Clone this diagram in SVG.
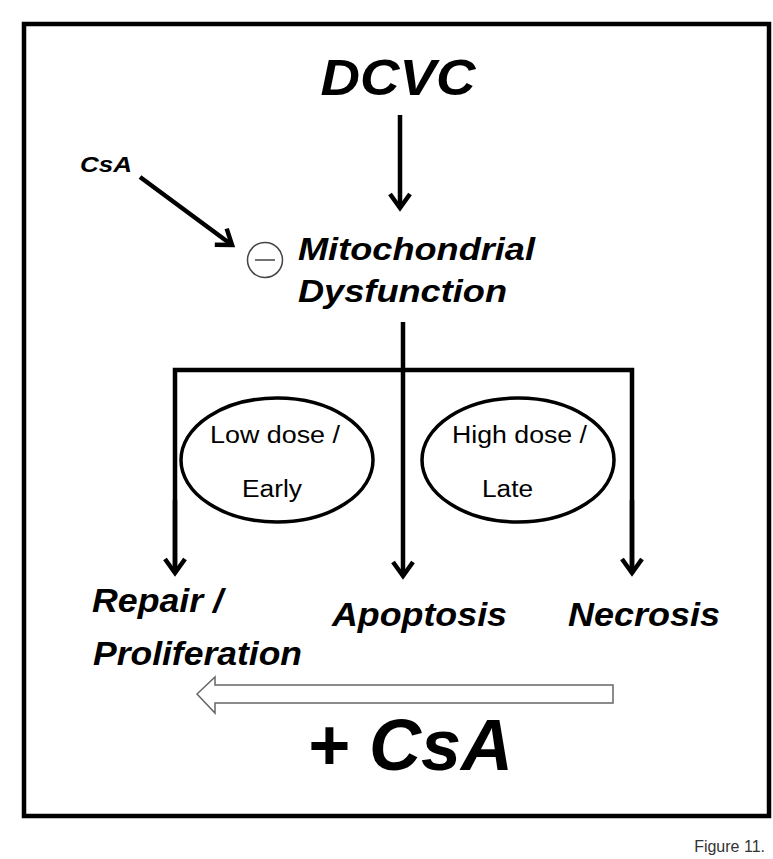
<svg xmlns="http://www.w3.org/2000/svg" width="773" height="859" viewBox="0 0 773 859">
<style>
.bi{font-family:"Liberation Sans",Arial,sans-serif;font-weight:bold;font-style:italic;fill:#000}
.n{font-family:"Liberation Sans",Arial,sans-serif;fill:#000;font-size:23px}
.c{fill:none;stroke:#000;stroke-width:4.5}
</style>
<defs>
<marker id="ah" markerUnits="userSpaceOnUse" markerWidth="30" markerHeight="30" viewBox="-20 -15 30 30" refX="0" refY="0" orient="auto" overflow="visible">
<path d="M-14,-10 L0,0 L-14,10" fill="none" stroke="#000" stroke-width="4.5"/>
</marker>
</defs>
<rect x="24" y="24" width="745" height="792" fill="#fff" stroke="#000" stroke-width="4.5"/>
<g id="dcvc"><text class="bi" x="398" y="95" font-size="50" text-anchor="middle" textLength="155" lengthAdjust="spacingAndGlyphs">DCVC</text></g>
<g id="csa-small"><text class="bi" x="80" y="172" font-size="22" textLength="52" lengthAdjust="spacingAndGlyphs">CsA</text></g>
<g id="inhibit"><circle cx="265" cy="260" r="17.5" fill="#fff" stroke="#444" stroke-width="1.5"/><line x1="255" y1="260" x2="275" y2="260" stroke="#444" stroke-width="1.5"/></g>
<g id="mito"><text class="bi" x="298" y="260" font-size="32" textLength="237" lengthAdjust="spacingAndGlyphs">Mitochondrial</text><text class="bi" x="298" y="302" font-size="32" textLength="209" lengthAdjust="spacingAndGlyphs">Dysfunction</text></g>
<g id="low"><ellipse cx="277" cy="460" rx="96" ry="62" fill="none" stroke="#000" stroke-width="3.5"/><text class="n" x="210" y="443" textLength="130" lengthAdjust="spacingAndGlyphs">Low dose /</text><text class="n" x="242" y="497" textLength="60" lengthAdjust="spacingAndGlyphs">Early</text></g>
<g id="high"><ellipse cx="518" cy="460" rx="96" ry="62" fill="none" stroke="#000" stroke-width="3.5"/><text class="n" x="452" y="443" textLength="135" lengthAdjust="spacingAndGlyphs">High dose /</text><text class="n" x="482" y="497" textLength="51" lengthAdjust="spacingAndGlyphs">Late</text></g>
<g id="repair"><text class="bi" x="92" y="612" font-size="34" textLength="131" lengthAdjust="spacingAndGlyphs">Repair /</text><text class="bi" x="93" y="665" font-size="34" textLength="209" lengthAdjust="spacingAndGlyphs">Proliferation</text></g>
<g id="apoptosis"><text class="bi" x="332" y="626" font-size="34" textLength="175" lengthAdjust="spacingAndGlyphs">Apoptosis</text></g>
<g id="necrosis"><text class="bi" x="568" y="626" font-size="34" textLength="152" lengthAdjust="spacingAndGlyphs">Necrosis</text></g>
<g id="plus-csa"><path d="M197,694 L215,677 L215,685 L613,685 L613,703 L215,703 L215,713 Z" fill="#fff" stroke="#666" stroke-width="1.5"/><text class="bi" x="307" y="770" font-size="72">+ CsA</text></g>
<g id="connectors">
<line class="c" x1="400" y1="115" x2="400" y2="208" marker-end="url(#ah)"/>
<line class="c" x1="140" y1="177" x2="232" y2="245" marker-end="url(#ah)"/>
<line class="c" x1="403" y1="322" x2="403" y2="370"/>
<polyline class="c" points="175,573 175,370 632,370 632,573" stroke-linejoin="miter"/>
<line class="c" x1="175" y1="500" x2="175" y2="573" marker-end="url(#ah)"/>
<line class="c" x1="403" y1="370" x2="403" y2="576" marker-end="url(#ah)"/>
<line class="c" x1="632" y1="500" x2="632" y2="573" marker-end="url(#ah)"/>
</g>
<text x="765" y="852" font-family="Liberation Sans,Arial,sans-serif" font-size="16" fill="#333" text-anchor="end">Figure 11.</text>
</svg>
